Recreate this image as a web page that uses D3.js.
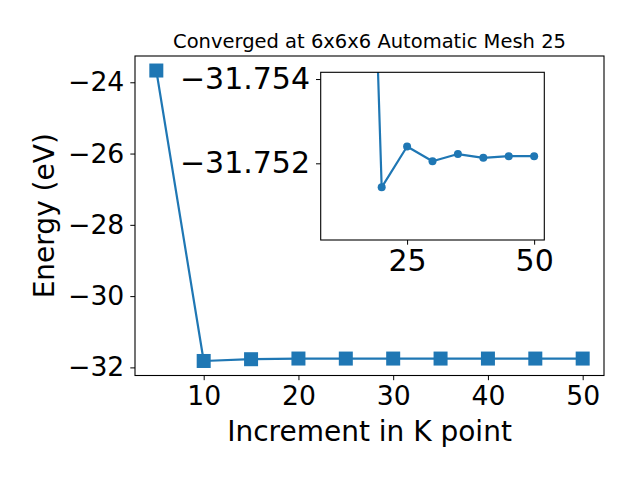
<!DOCTYPE html>
<html>
<head>
<meta charset="utf-8">
<script src="https://cdn.jsdelivr.net/npm/d3@7"></script>
<style>
  html, body { margin: 0; padding: 0; background: #fff; }
  svg { display: block; }
  text { font-family: "DejaVu Sans", sans-serif; fill: #000; }
</style>
</head>
<body>
<svg id="chart" width="640" height="480"></svg>
<script>
// ---- data ----
const kPoints = [5, 10, 15, 20, 25, 30, 35, 40, 45, 50];
const energies = [-23.67, -31.82, -31.7704, -31.75143, -31.7524, -31.75205, -31.75222, -31.75213, -31.75217, -31.75217];
const mainXTicks = [10, 20, 30, 40, 50];
const mainYTicks = [-32, -30, -28, -26, -24];
const insetXTicks = [25, 50];
const insetYTicks = [-31.754, -31.752];
const insetYLimits = [-31.75416, -31.75018]; // top, bottom (inverted axis)
const titleText = "Converged at 6x6x6 Automatic Mesh 25";
const xLabelText = "Increment in K point";
const yLabelText = "Energy (eV)";

const color = "#1f77b4";
const fmtMinus = s => String(s).replace("-", "\u2212");

const svg = d3.select("#chart");

// ---- main axes ----
const M = { left: 135, right: 604, top: 56, bottom: 375.5 };
const xExt = d3.extent(kPoints), yExt = d3.extent(energies);
const xPad = (xExt[1] - xExt[0]) * 0.05, yPad = (yExt[1] - yExt[0]) * 0.05;
const x = d3.scaleLinear().domain([xExt[0] - xPad, xExt[1] + xPad]).range([M.left, M.right]);
const y = d3.scaleLinear().domain([yExt[0] - yPad, yExt[1] + yPad]).range([M.bottom, M.top]);

const main = svg.append("g");
const line = d3.line().x((d, i) => x(kPoints[i])).y(d => y(d));
main.append("path").datum(energies)
  .attr("d", line).attr("fill", "none").attr("stroke", color).attr("stroke-width", 2.2)
  .attr("stroke-linejoin", "round");
const sq = 14;
main.selectAll("rect.m").data(energies).enter().append("rect")
  .attr("x", (d, i) => x(kPoints[i]) - sq / 2).attr("y", d => y(d) - sq / 2)
  .attr("width", sq).attr("height", sq).attr("fill", color);

// axes
const xAxisG = svg.append("g").attr("transform", `translate(0,${M.bottom})`)
  .call(d3.axisBottom(x).tickValues(mainXTicks).tickSize(4.7).tickPadding(6).tickFormat(d3.format("d")));
const yAxisG = svg.append("g").attr("transform", `translate(${M.left},0)`)
  .call(d3.axisLeft(y).tickValues(mainYTicks).tickSize(4.7).tickPadding(6).tickFormat(d => fmtMinus(d)));
[xAxisG, yAxisG].forEach(g => {
  g.select(".domain").remove();
  g.selectAll("line").attr("stroke", "#000").attr("stroke-width", 1);
  g.selectAll("text").style("font-size", "26.67px").style("font-family", "DejaVu Sans");
});
svg.append("rect").attr("x", M.left).attr("y", M.top)
  .attr("width", M.right - M.left).attr("height", M.bottom - M.top)
  .attr("fill", "none").attr("stroke", "#000").attr("stroke-width", 1.1);

// title & labels
svg.append("text").attr("x", (M.left + M.right) / 2).attr("y", 48)
  .attr("text-anchor", "middle").style("font-size", "19.5px").text(titleText);
svg.append("text").attr("x", (M.left + M.right) / 2).attr("y", 441)
  .attr("text-anchor", "middle").style("font-size", "28px").text(xLabelText);
svg.append("text").attr("transform", `translate(54,${(M.top + M.bottom) / 2}) rotate(-90)`)
  .attr("text-anchor", "middle").style("font-size", "28px").text(yLabelText);

// ---- inset ----
const I = { left: 320.7, right: 544.3, top: 72.3, bottom: 240 };
const insetX = kPoints.slice(1), insetY = energies.slice(1);
const ixExt = d3.extent(insetX), ixPad = (ixExt[1] - ixExt[0]) * 0.05;
const xi = d3.scaleLinear().domain([ixExt[0] - ixPad, ixExt[1] + ixPad]).range([I.left, I.right]);
const yi = d3.scaleLinear().domain(insetYLimits).range([I.top, I.bottom]);

svg.append("rect").attr("x", I.left).attr("y", I.top)
  .attr("width", I.right - I.left).attr("height", I.bottom - I.top).attr("fill", "#fff");
svg.append("clipPath").attr("id", "iclip").append("rect")
  .attr("x", I.left).attr("y", I.top).attr("width", I.right - I.left).attr("height", I.bottom - I.top);
const ig = svg.append("g").attr("clip-path", "url(#iclip)");
const iline = d3.line().x((d, i) => xi(insetX[i])).y(d => yi(d));
ig.append("path").datum(insetY).attr("d", iline)
  .attr("fill", "none").attr("stroke", color).attr("stroke-width", 2.2).attr("stroke-linejoin", "round");
ig.selectAll("circle").data(insetY).enter().append("circle")
  .attr("cx", (d, i) => xi(insetX[i])).attr("cy", d => yi(d)).attr("r", 4).attr("fill", color);

const ixAxisG = svg.append("g").attr("transform", `translate(0,${I.bottom})`)
  .call(d3.axisBottom(xi).tickValues(insetXTicks).tickSize(4.7).tickPadding(5).tickFormat(d3.format("d")));
const iyAxisG = svg.append("g").attr("transform", `translate(${I.left},0)`)
  .call(d3.axisLeft(yi).tickValues(insetYTicks).tickSize(4.7).tickPadding(6).tickFormat(d => fmtMinus(d3.format(".3f")(d))));
[ixAxisG, iyAxisG].forEach(g => {
  g.select(".domain").remove();
  g.selectAll("line").attr("stroke", "#000").attr("stroke-width", 1);
  g.selectAll("text").style("font-size", "30px").style("font-family", "DejaVu Sans");
});
svg.append("rect").attr("x", I.left).attr("y", I.top)
  .attr("width", I.right - I.left).attr("height", I.bottom - I.top)
  .attr("fill", "none").attr("stroke", "#000").attr("stroke-width", 1.1);
</script>
</body>
</html>
